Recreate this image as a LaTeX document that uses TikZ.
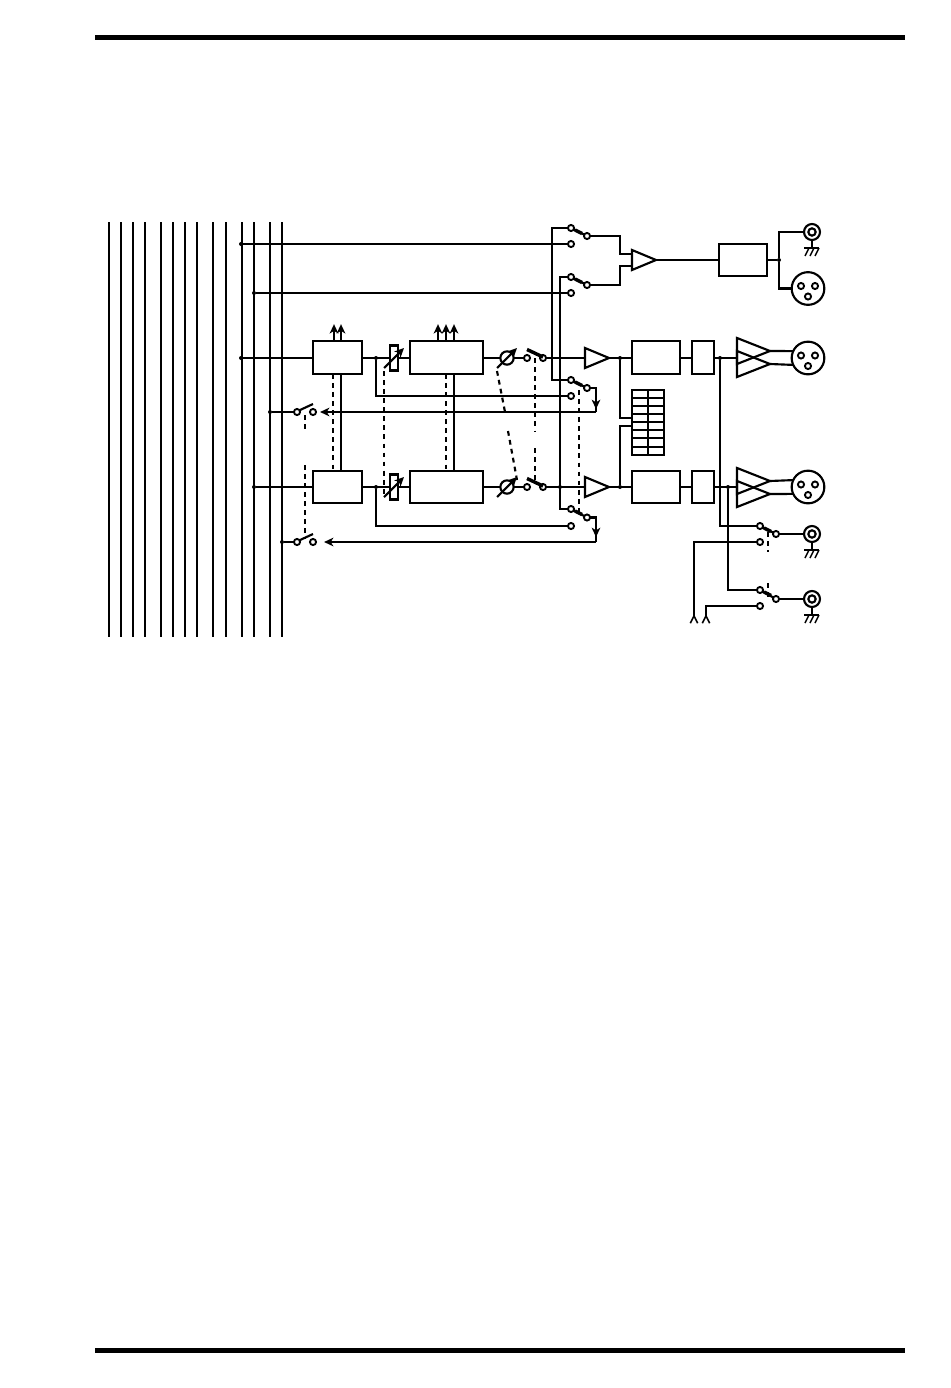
\documentclass[tikz,border=0pt]{standalone}
\usepackage{tikz}
\usetikzlibrary{positioning,arrows.meta}
\usetikzlibrary{shapes}
\tikzset{every picture/.style={line width=1.6pt}}
\tikzset{
  blk/.style={draw,rectangle,inner sep=0,outer sep=0,minimum height=24.5pt},
  trim/.style={draw,rectangle,inner sep=0,outer sep=0,minimum width=6pt,minimum height=18.75pt},
  term/.style={draw,circle,fill=white,inner sep=0,outer sep=0,minimum size=4.6pt,line width=1.4pt},
  jn/.style={circle,fill=black,inner sep=0,outer sep=0,minimum size=3pt},
  knob/.style={draw,circle,inner sep=0,outer sep=0,minimum size=10pt},
  ctl/.style={dash pattern=on 3.6pt off 3.2pt},
  tip/.style={-{Stealth[length=7pt,width=6.5pt,inset=2pt]}},
  lug/.style={-{Straight Barb[reversed,length=5.5pt,width=5.5pt,line width=1.2pt]}},
  lever/.style={line width=2.6pt},
  amp/.pic={
    \draw (0,-10) -- (24,0) -- (0,10) -- cycle;
    \coordinate (-in) at (0,0);
    \coordinate (-out) at (24,0);
  },
  bal/.pic={
    \draw (0,-13) -- (33,0) -- (0,13) -- cycle;
    \coordinate (-in) at (0,0);
    \coordinate (-out) at (33,0);
  },
  xlr/.pic={
    \node[draw,circle,inner sep=0,outer sep=0,minimum size=24.5pt] (-body) at (0,0) {};
    \node[term] (-p1) at (-7,-2.5) {};
    \node[term] (-p2) at (7,-2.5) {};
    \node[term] (-p3) at (0,8) {};
  },
  rca/.pic={
    \node[draw,circle,inner sep=0,outer sep=0,minimum size=12pt] (-body) at (0,0) {};
    \node[draw,circle,inner sep=0,outer sep=0,minimum size=5.5pt] (-pin) at (0,0) {};
    \coordinate (-gnd) at (0,16);
    \draw (-body.south) -- (-gnd);
    \draw (-8,16) -- (7,16);
    \draw[line width=1.1pt] (-3,16) -- (-7,24);
    \draw[line width=1.1pt] (2,16) -- (-2,24);
    \draw[line width=1.1pt] (7,16) -- (3,24);
  }
}

\begin{document}
\begin{tikzpicture}[x=0.75pt,y=-0.75pt]
\useasboundingbox (0,0) rectangle (950,1388);
\coordinate (ruleTl) at (95,37.5);
\coordinate (ruleTr) at (905,37.5);
\coordinate (ruleBl) at (95,1350);
\coordinate (ruleBr) at (905,1350);
\draw[line width=3.75pt] (ruleTl) -- (ruleTr);
\draw[line width=3.75pt] (ruleBl) -- (ruleBr);
\foreach \x in {109,121,133,145,161,173,185,197,213,226,242,254,270,282} {
  \coordinate (busT\x) at (\x,222);
  \coordinate (busB\x) at (\x,637);
  \draw (busT\x) -- (busB\x);
}

\node[blk,minimum width=36.75pt] (boxA) at (337.5,357.5) {};
\node[blk,minimum width=36.75pt] (boxB) at (337.5,487) {};
\node[trim] (trimA) at (394,358) {};
\node[trim] (trimB) at (394,487) {};
\node[blk,minimum width=54.75pt] (eqA) at (446.5,357.5) {};
\node[blk,minimum width=54.75pt] (eqB) at (446.5,487) {};
\node[knob] (knobA) at (507,358) {};
\node[knob] (knobB) at (507,487) {};
\node[term] (mtA1) at (527,358) {};
\node[term] (mtA2) at (543,358) {};
\node[term] (mtB1) at (527,487) {};
\node[term] (mtB2) at (543,487) {};
\pic (ampA) at (585,358) {amp};
\pic (ampB) at (585,487) {amp};
\pic (ampT) at (632,260) {amp};
\node[blk,minimum width=36pt] (faderA) at (656,357.5) {};
\node[blk,minimum width=36pt] (faderB) at (656,487) {};
\node[blk,minimum width=16.5pt] (gainA) at (703,357.5) {};
\node[blk,minimum width=16.5pt] (gainB) at (703,487) {};
\node[blk,minimum width=36pt] (boxT) at (743,260) {};
\pic (balA1) at (737,351) {bal};
\pic (balA2) at (737,364) {bal};
\pic (balB1) at (737,481) {bal};
\pic (balB2) at (737,494) {bal};
\pic (xlrT) at (808,288.5) {xlr};
\pic (xlrA) at (808,358) {xlr};
\pic (xlrB) at (808,487) {xlr};
\pic (rcaT) at (812,232) {rca};
\pic (rcaA) at (812,534) {rca};
\pic (rcaB) at (812,599) {rca};

\node[term] (s1a) at (571,228) {};
\node[term] (s1b) at (571,244) {};
\node[term] (s1c) at (587,236) {};
\node[term] (s2a) at (571,277) {};
\node[term] (s2b) at (571,293) {};
\node[term] (s2c) at (587,285) {};
\node[term] (s3a) at (571,380) {};
\node[term] (s3b) at (571,396) {};
\node[term] (s3c) at (587,388) {};
\node[term] (s4a) at (571,509) {};
\node[term] (s4b) at (571,526) {};
\node[term] (s4c) at (587,517.5) {};
\node[term] (s5a) at (760,526) {};
\node[term] (s5b) at (760,542) {};
\node[term] (s5c) at (776,534) {};
\node[term] (s6a) at (760,590) {};
\node[term] (s6b) at (760,606) {};
\node[term] (s6c) at (776,599) {};
\node[term] (rtA1) at (297,412) {};
\node[term] (rtA2) at (313,412) {};
\node[term] (rtB1) at (297,542) {};
\node[term] (rtB2) at (313,542) {};

\node[jn] (j1) at (241,244) {};
\node[jn] (j2) at (254,293) {};
\node[jn] (j3) at (241,358) {};
\node[jn] (j4) at (254,487) {};
\node[jn] (j5) at (270,412) {};
\node[jn] (j6) at (282,542) {};
\node[jn] (jTrimA) at (376,358) {};
\node[jn] (jTrimB) at (376,487) {};
\node[jn] (jBusB) at (560,487) {};
\node[jn] (jAmpA) at (620,358) {};
\node[jn] (jAmpB) at (620,487) {};
\node[jn] (jOutA) at (720,358) {};
\node[jn] (jOutB) at (728,487) {};
\node[jn] (jT) at (779,260) {};
\coordinate (retA) at (596,412);
\coordinate (retB) at (596,542);
\coordinate (lugA) at (694,624);
\coordinate (lugB) at (706,624);

\draw (j1) -- (s1b);
\draw (j2) -- (s2b);
\draw (j3) -- (boxA.west |- j3);
\draw (j4) -- (boxB);
\draw (boxA.east |- trimA) -- (trimA);
\draw (boxB) -- (trimB);
\draw (trimA) -- (eqA.west |- trimA);
\draw (trimB) -- (eqB);
\draw (eqA.east |- knobA) -- (knobA);
\draw (eqB) -- (knobB);
\draw (knobA) -- (mtA1);
\draw (knobB) -- (mtB1);
\draw (mtA2) -- (ampA-in);
\draw (mtB2) -- (ampB-in);
\draw (ampA-out) -- (faderA.west |- ampA-out);
\draw (ampB-out) -- (faderB);
\draw (faderA.east |- ampA-out) -- (gainA.west |- ampA-out);
\draw (faderB) -- (gainB);
\draw (gainA.east |- ampA-out) -- (balA1-in |- ampA-out);
\draw (gainB) -- (balB1-in |- gainB);
\draw (ampT-out) -- (boxT);
\draw (boxT) -- (jT);

\draw[tip] (334,0 |- boxA.north) -- ++(0,-17);
\draw[tip] (341,0 |- boxA.north) -- ++(0,-17);
\draw[tip] (438,0 |- eqA.north) -- ++(0,-17);
\draw[tip] (446,0 |- eqA.north) -- ++(0,-17);
\draw[tip] (454,0 |- eqA.north) -- ++(0,-17);
\draw (341,0 |- boxA.south) -- (341,0 |- boxB.north);
\draw[ctl] (333,0 |- boxA.south) -- (333,0 |- boxB.north);
\draw (454,0 |- eqA.south) -- (454,0 |- eqB.north);
\draw[ctl] (446,0 |- eqA.south) -- (446,0 |- eqB.north);

\draw[tip] (trimA.center) ++(-10,10) -- ++(20,-20);
\draw[tip] (trimB.center) ++(-10,10) -- ++(20,-20);
\draw[tip] (knobA.center) ++(-10,10) -- ++(20,-20);
\draw[tip] (knobB.center) ++(-10,10) -- ++(20,-20);
\draw[ctl] (384,371) -- (384,497);
\draw[ctl] (497,371) -- (505,412);
\draw[ctl] (508,431) -- (517,480);
\draw[ctl] (535,358) -- (535,432);
\draw[ctl] (535,448) -- (535,483);
\draw[ctl] (579,390) -- (579,512);
\draw[ctl] (305,415) -- (305,433);
\draw[ctl] (305,465) -- (305,538);
\draw[ctl] (768,532) -- (768,552);
\draw[ctl] (768,583) -- (768,598);

\draw[lever] (527,349.5) -- (543,357);
\draw[lever] (527,478.5) -- (543,486);
\draw (s1a) -- (s1c);
\draw (s2a) -- (s2c);
\draw (s3a) -- (s3c);
\draw (s4a) -- (s4c);
\draw (s5a) -- (s5c);
\draw (s6a) -- (s6c);
\draw[lever] (575,230) -- (582,233.5);
\draw[lever] (575,279) -- (582,282.5);
\draw[lever] (575,382) -- (582,385.5);
\draw[lever] (575,511) -- (582,514.5);
\draw[lever] (764,528) -- (771,531.5);
\draw[lever] (764,592) -- (771,595.5);
\draw (299,410.5) -- (313,404);
\draw (299,540.5) -- (313,534);

\draw (s1a) -- (552,228) -- (552,380) -- (s3a);
\draw (s2a) -- (560,277) -- (560,509) -- (s4a);
\draw (s1c) -| (620,254) -- (632,254);
\draw (s2c) -| (620,266) -- (632,266);
\draw (jTrimA) |- (s3b);
\draw (jTrimB) |- (s4b);
\draw (s3c) -| (retA);
\draw (s4c) -| (retB);
\draw[tip] (596,388) -- (596,409);
\draw[tip] (596,517.5) -- (596,537);
\draw[tip,shorten >=3pt] (retA) -- (rtA2);
\draw[tip,shorten >=6pt] (retB) -- (rtB2);
\draw (rtA1) -- (j5);
\draw (rtB1) -- (j6);

\draw (jAmpA) |- (632,418);
\draw (jAmpB) |- (632,426);
\draw (632,390) rectangle (664,455);
\draw (648,390) -- (648,455);
\foreach \y in {398,406,414,422,430,438,447} {
  \draw (632,\y) -- (664,\y);
}

\draw (balA1-out) -- (xlrA-body.155);
\draw (balA2-out) -- (xlrA-body.205);
\draw (balB1-out) -- (xlrB-body.155);
\draw (balB2-out) -- (xlrB-body.205);

\draw (jT) |- (rcaT-body);
\draw (jT) |- (xlrT-body);
\draw (jOutA) |- (s5a);
\draw (jOutB) |- (s6a);
\draw (s5c) -- (rcaA-body);
\draw (s6c) -- (rcaB-body);
\draw[lug] (s5b) -| (lugA);
\draw[lug] (s6b) -| (lugB);
\end{tikzpicture}
\end{document}
